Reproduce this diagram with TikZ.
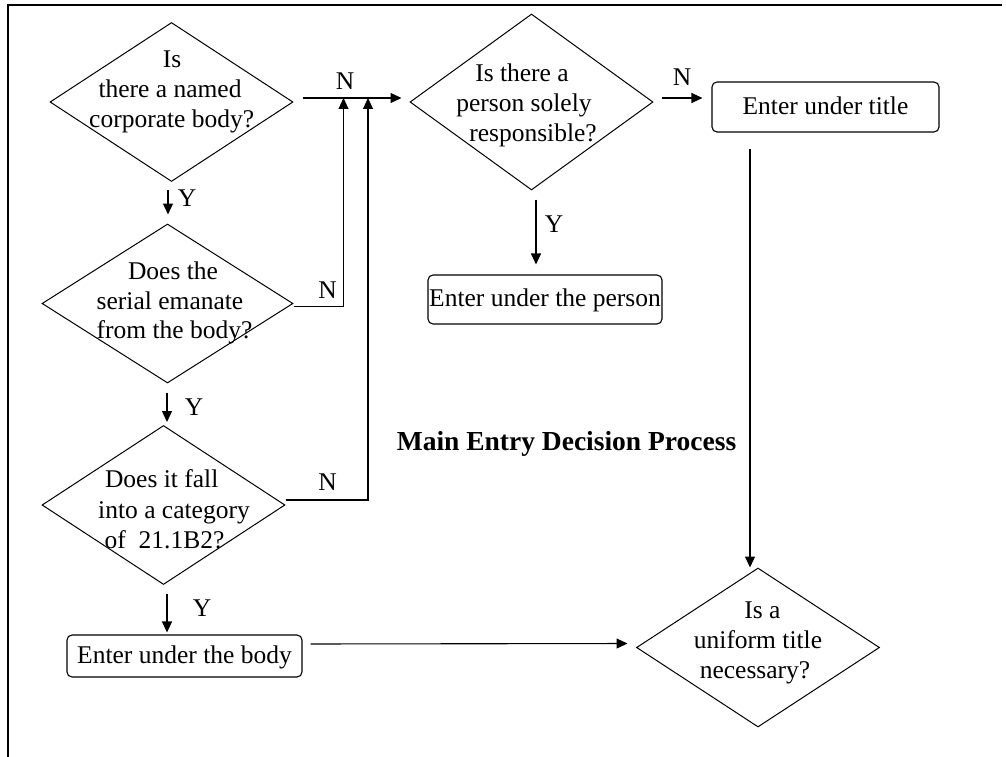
\documentclass[tikz,border=0pt]{standalone}
\usepackage{fontspec}
\setmainfont{Liberation Serif}
\usetikzlibrary{shapes.geometric,arrows.meta}
\tikzset{
 every node/.style={font=\fontsize{25.5pt}{30pt}\selectfont},
 dia/.style={draw, diamond, inner sep=0pt, minimum width=243pt, minimum height=159pt, line width=1pt},
 rbox/.style={draw, rounded corners=5pt, inner sep=0pt, line width=1.1pt, text depth=5pt, text height=19pt},
 txt/.style={anchor=base, inner sep=0pt},
 lbl/.style={inner sep=0pt},
 arr/.style={-{Triangle[length=11pt,width=10pt]}, line width=1.1pt},
 ln/.style={line width=1.2pt}
}
\begin{document}
\begin{tikzpicture}[x=1pt,y=-1pt]
\useasboundingbox (0,0) rectangle (1006,757);
\draw[ln] (8,757) -- (8,5) -- (1002,5);

% diamonds
\node[dia] (d1) at (171.5,102) {};
\node[txt] (d1a) at (172,68) {Is};
\node[txt] (d1b) at (170,98) {there a named};
\node[txt] (d1c) at (171.7,128) {corporate body?};

\node[dia, minimum width=251pt] (d2) at (167.5,303.5) {};
\node[txt] (d2a) at (173,279) {Does the};
\node[txt] (d2b) at (170,309) {serial emanate};
\node[txt] (d2c) at (174.5,338) {from the body?};

\node[dia] (d3) at (163.5,505) {};
\node[txt] (d3a) at (161.7,487) {Does it fall};
\node[txt] (d3b) at (174,518) {into a category};
\node[txt] (d3c) at (164.5,548) {of~ 21.1B2?};

\node[dia, minimum height=176pt] (dp) at (531.5,102) {};
\node[txt] (dpa) at (522,82) {Is there a};
\node[txt] (dpb) at (524,112) {person solely};
\node[txt] (dpc) at (533,142) {responsible?};

\node[dia] (d5) at (758,647.5) {};
\node[txt] (d5a) at (762.5,618) {Is a};
\node[txt] (d5b) at (758,648) {uniform title};
\node[txt] (d5c) at (755,678) {necessary?};

% boxes
\node[rbox, minimum width=235pt, minimum height=42pt] (bb) at (184.5,656) {Enter under the body};
\node[rbox, minimum width=227pt, minimum height=50pt] (bt) at (825.5,107) {Enter under title};
\node[rbox, minimum width=234pt, minimum height=49pt] (bp) at (545,299.5) {Enter under the person};

\node[font=\bfseries\fontsize{27.5pt}{33pt}\selectfont, anchor=base, inner sep=0pt] (title) at (566.5,450) {Main Entry Decision Process};

\coordinate (j1) at (343.5,98);
\coordinate (j2) at (368,98);

% connectors
\draw[arr, shorten <=9pt, shorten >=8pt] ([yshift=4pt]d1.east) -- ([yshift=4pt]dp.west);
\draw[arr] ([yshift=-3pt]d2.east) -| (j1);
\draw[arr] ([yshift=5pt]d3.east) -| (j2);
\draw[arr, shorten <=8pt, shorten >=9pt] ([xshift=-3.5pt]d1.south) -- ([xshift=0.5pt]d2.north);
\draw[arr, shorten <=9pt, shorten >=3pt] ([xshift=-0.5pt]d2.south) -- ([xshift=3.5pt]d3.north);
\draw[arr, shorten <=9pt, shorten >=2pt] ([xshift=3.5pt]d3.south) -- ([xshift=-17.5pt]bb.north);
\draw[arr, shorten <=9pt, shorten >=10pt] ([xshift=4.5pt]dp.south) -- ([xshift=-9pt]bp.north);
\draw[arr, shorten <=8.5pt, shorten >=9pt] ([yshift=4pt]dp.east) -- ([yshift=9pt]bt.west);
\draw[arr, shorten <=16pt] ([xshift=-75.5pt]bt.south) -- ([xshift=-8pt]d5.north);
\draw[arr, shorten <=8pt, shorten >=8.5pt] ([yshift=12pt]bb.east) -- ([yshift=4pt]d5.west);

% labels
\node[lbl] (n1) at (345,81) {N};
\node[lbl] (n2) at (327.5,290) {N};
\node[lbl] (n3) at (327.5,482) {N};
\node[lbl] (n4) at (682,77) {N};
\node[lbl] (y1) at (187,198) {Y};
\node[lbl] (y2) at (194,407) {Y};
\node[lbl] (y3) at (202,608) {Y};
\node[lbl] (y4) at (554,224) {Y};
\end{tikzpicture}
\end{document}
